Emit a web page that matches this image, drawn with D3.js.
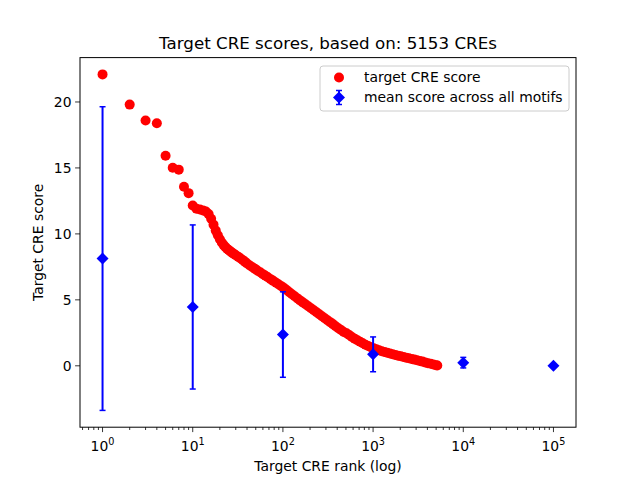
<!DOCTYPE html>
<html lang="en">
<head>
    <meta charset="UTF-8">
    <title>Target CRE scores</title>
    <script src="https://d3js.org/d3.v7.min.js"></script>
    <style>
        body {
            margin: 0;
            padding: 0;
            background-color: #fff;
        }
        svg {
            display: block;
            font-family: "DejaVu Sans", sans-serif;
        }
    </style>
</head>
<body>
    <svg id="chart" width="640" height="480"></svg>

    <script>
        // ranks 1..30 one by one, then sampled along the dense part of the curve
        const cre_ranks = [
            1, 2, 3, 4, 5, 6, 7, 8, 9, 10,
            11, 12, 13, 14, 15, 16, 17, 18, 19, 20,
            21, 22, 23, 24, 25, 26, 27, 28, 29, 30,
            32, 34, 36, 38, 40, 43, 46, 49, 52, 56,
            60, 64, 68, 73, 78, 84, 90, 96, 103, 110,
            118, 126, 135, 145, 155, 166, 178, 191, 205, 220,
            236, 253, 271, 291, 312, 334, 358, 384, 412, 441,
            473, 507, 543, 582, 624, 669, 717, 768, 823, 882,
            945, 1013, 1086, 1164, 1248, 1337, 1433, 1536, 1646, 1764,
            1891, 2027, 2172, 2328, 2495, 2674, 2866, 3072, 3292, 3529,
            3782, 4053, 4344, 4656, 4990, 5153
        ];
        const cre_scores = [
            22.09, 19.80, 18.59, 18.39, 15.93, 15.02, 14.87, 13.57, 13.09, 12.15,
            11.90, 11.85, 11.78, 11.70, 11.50, 11.15, 10.70, 10.25, 9.90, 9.60,
            9.35, 9.15, 9.00, 8.88, 8.78, 8.68, 8.60, 8.52, 8.45, 8.38,
            8.26, 8.13, 8.01, 7.88, 7.76, 7.61, 7.47, 7.35, 7.23, 7.09,
            6.95, 6.83, 6.71, 6.57, 6.44, 6.30, 6.17, 6.04, 5.89, 5.74,
            5.58, 5.43, 5.27, 5.11, 4.96, 4.81, 4.66, 4.51, 4.36, 4.21,
            4.06, 3.91, 3.76, 3.61, 3.46, 3.31, 3.16, 3.00, 2.85, 2.71,
            2.56, 2.47, 2.33, 2.19, 2.06, 1.94, 1.82, 1.71, 1.60, 1.50,
            1.41, 1.33, 1.25, 1.18, 1.11, 1.05, 0.99, 0.93, 0.87, 0.82,
            0.77, 0.72, 0.67, 0.62, 0.57, 0.52, 0.47, 0.42, 0.37, 0.32,
            0.26, 0.20, 0.15, 0.10, 0.05, 0.02
        ];

        // mean score across all motifs (with std error bars)
        const motif_ranks = [1, 10, 100, 1000, 10000, 100000];
        const motif_means = [8.13, 4.46, 2.37, 0.87, 0.24, 0.0];
        const motif_errs = [11.51, 6.22, 3.24, 1.32, 0.40, 0.03];

        const x_ticks = [1, 10, 100, 1000, 10000, 100000];
        const y_ticks = [0, 5, 10, 15, 20];

        const n_cres = 5153;

        const svg = d3.select("#chart");
        const mLeft = 80, mRight = 576, mTop = 57.6, mBottom = 427.2;

        // log x with matplotlib style 5% margins (in log space)
        const lx = [0, 5];
        const padX = (lx[1] - lx[0]) * 0.05;
        const x = d3.scaleLog()
            .domain([Math.pow(10, lx[0] - padX), Math.pow(10, lx[1] + padX)])
            .range([mLeft, mRight]);

        const yLo = Math.min(d3.min(cre_scores), d3.min(motif_means.map((m, i) => m - motif_errs[i])));
        const yHi = Math.max(d3.max(cre_scores), d3.max(motif_means.map((m, i) => m + motif_errs[i])));
        const padY = (yHi - yLo) * 0.05;
        const y = d3.scaleLinear()
            .domain([yLo - padY, yHi + padY])
            .range([mBottom, mTop]);

        // red scatter
        const plot = svg.append("g");
        plot.selectAll("circle")
            .data(cre_ranks)
            .join("circle")
            .attr("cx", d => x(d))
            .attr("cy", (d, i) => y(cre_scores[i]))
            .attr("r", 5)
            .attr("fill", "red");

        // blue error bars
        const eb = plot.append("g").attr("stroke", "blue");
        motif_ranks.forEach((r, i) => {
            const cx = x(r);
            const y1 = y(motif_means[i] + motif_errs[i]);
            const y2 = y(motif_means[i] - motif_errs[i]);
            eb.append("line").attr("x1", cx).attr("x2", cx).attr("y1", y1).attr("y2", y2)
                .attr("stroke-width", 2);
            [y1, y2].forEach(yy => {
                eb.append("line").attr("x1", cx - 3).attr("x2", cx + 3)
                    .attr("y1", yy).attr("y2", yy).attr("stroke-width", 1.5);
            });
        });
        plot.append("g").selectAll("path")
            .data(motif_ranks)
            .join("path")
            .attr("d", "M0,-6L6,0L0,6L-6,0Z")
            .attr("transform", (d, i) => `translate(${x(d)},${y(motif_means[i])})`)
            .attr("fill", "blue");

        // frame
        svg.append("rect")
            .attr("x", mLeft).attr("y", mTop)
            .attr("width", mRight - mLeft).attr("height", mBottom - mTop)
            .attr("fill", "none").attr("stroke", "#000").attr("stroke-width", 1);

        // x axis ticks
        const xa = svg.append("g");
        const minor = [];
        for (let e = -1; e <= 5; e++) {
            for (let m = 2; m <= 9; m++) {
                const v = m * Math.pow(10, e);
                if (v >= x.domain()[0] && v <= x.domain()[1]) minor.push(v);
            }
        }
        xa.selectAll("line.minor").data(minor).join("line")
            .attr("class", "minor")
            .attr("x1", d => x(d)).attr("x2", d => x(d))
            .attr("y1", mBottom).attr("y2", mBottom + 2.8)
            .attr("stroke", "#000").attr("stroke-width", 0.8);
        xa.selectAll("line.major").data(x_ticks).join("line")
            .attr("class", "major")
            .attr("x1", d => x(d)).attr("x2", d => x(d))
            .attr("y1", mBottom).attr("y2", mBottom + 4.9)
            .attr("stroke", "#000").attr("stroke-width", 0.8);
        const xl = xa.selectAll("text").data(x_ticks).join("text")
            .attr("x", d => x(d)).attr("y", mBottom + 24)
            .attr("text-anchor", "middle")
            .style("font-size", "13.9px");
        xl.append("tspan").text("10");
        xl.append("tspan").attr("dy", -6).style("font-size", "9.7px")
            .text(d => Math.round(Math.log10(d)));

        // y axis ticks
        const ya = svg.append("g");
        ya.selectAll("line").data(y_ticks).join("line")
            .attr("x1", mLeft - 4.9).attr("x2", mLeft)
            .attr("y1", d => y(d)).attr("y2", d => y(d))
            .attr("stroke", "#000").attr("stroke-width", 0.8);
        ya.selectAll("text").data(y_ticks).join("text")
            .attr("x", mLeft - 8.5).attr("y", d => y(d))
            .attr("dy", "0.35em")
            .attr("text-anchor", "end")
            .style("font-size", "13.9px")
            .text(d => d);

        // labels
        svg.append("text")
            .attr("x", (mLeft + mRight) / 2).attr("y", 49)
            .attr("text-anchor", "middle")
            .style("font-size", "16.7px")
            .text(`Target CRE scores, based on: ${n_cres} CREs`);
        svg.append("text")
            .attr("x", (mLeft + mRight) / 2).attr("y", 471)
            .attr("text-anchor", "middle")
            .style("font-size", "13.9px")
            .text("Target CRE rank (log)");
        svg.append("text")
            .attr("transform", `translate(43,${(mTop + mBottom) / 2}) rotate(-90)`)
            .attr("text-anchor", "middle")
            .style("font-size", "13.9px")
            .text("Target CRE score");

        // legend
        const lg = svg.append("g").attr("transform", "translate(320,66)");
        lg.append("rect")
            .attr("width", 249).attr("height", 45).attr("rx", 3)
            .attr("fill", "#fff").attr("fill-opacity", 0.8)
            .attr("stroke", "#ccc").attr("stroke-width", 1);
        lg.append("circle").attr("cx", 19).attr("cy", 11.5).attr("r", 5).attr("fill", "red");
        lg.append("text").attr("x", 44).attr("y", 11.5).attr("dy", "0.35em")
            .style("font-size", "13.9px").text("target CRE score");
        const lb = lg.append("g").attr("transform", "translate(19,31.5)").attr("stroke", "blue");
        lb.append("line").attr("y1", -7).attr("y2", 7).attr("stroke-width", 2);
        lb.append("line").attr("x1", -3).attr("x2", 3).attr("y1", -7).attr("y2", -7).attr("stroke-width", 1.5);
        lb.append("line").attr("x1", -3).attr("x2", 3).attr("y1", 7).attr("y2", 7).attr("stroke-width", 1.5);
        lb.append("path").attr("d", "M0,-6L6,0L0,6L-6,0Z").attr("fill", "blue").attr("stroke", "none");
        lg.append("text").attr("x", 44).attr("y", 31.5).attr("dy", "0.35em")
            .style("font-size", "13.9px").text("mean score across all motifs");
    </script>
</body>
</html>
